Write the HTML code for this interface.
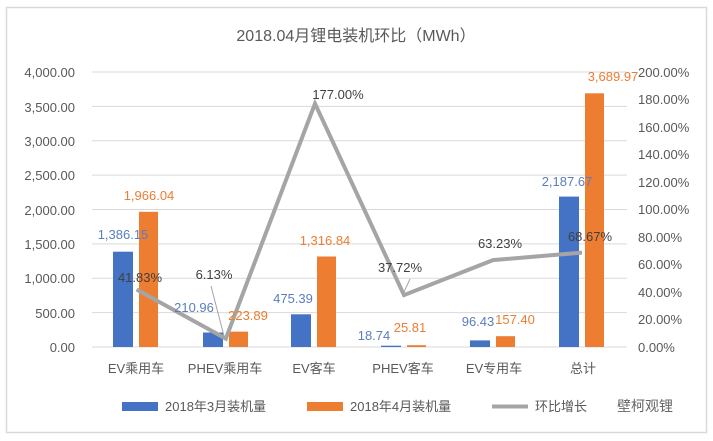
<!DOCTYPE html>
<html><head><meta charset="utf-8"><style>
html,body{margin:0;padding:0;background:#fff}
svg{display:block;font-family:"Liberation Sans","Noto Sans CJK SC",sans-serif}
</style></head><body>
<svg width="713" height="441" viewBox="0 0 713 441" xmlns="http://www.w3.org/2000/svg">
<rect x="0" y="0" width="713" height="441" fill="#fff"/>
<rect x="6.5" y="7.5" width="700" height="425" fill="#fff" stroke="#d9d9d9" stroke-width="1.5"/>
<text x="356" y="41" text-anchor="middle" font-size="16" fill="#595959">2018.04月锂电装机环比（MWh）</text>
<g stroke="#d9d9d9" stroke-width="1">
<line x1="92" x2="627" y1="72" y2="72"/><line x1="92" x2="627" y1="106.4" y2="106.4"/>
<line x1="92" x2="627" y1="140.8" y2="140.8"/><line x1="92" x2="627" y1="175.1" y2="175.1"/>
<line x1="92" x2="627" y1="209.5" y2="209.5"/><line x1="92" x2="627" y1="243.9" y2="243.9"/>
<line x1="92" x2="627" y1="278.3" y2="278.3"/><line x1="92" x2="627" y1="312.6" y2="312.6"/>
<line x1="92" x2="627" y1="347" y2="347"/>
</g>
<g font-size="13" fill="#595959" text-anchor="end">
<text x="75" y="77">4,000.00</text><text x="75" y="112">3,500.00</text><text x="75" y="146">3,000.00</text>
<text x="75" y="180">2,500.00</text><text x="75" y="215">2,000.00</text><text x="75" y="249">1,500.00</text>
<text x="75" y="283">1,000.00</text><text x="75" y="318">500.00</text><text x="75" y="352">0.00</text>
</g>
<g font-size="13" fill="#595959">
<text x="638" y="77">200.00%</text><text x="638" y="104">180.00%</text><text x="638" y="132">160.00%</text>
<text x="638" y="159">140.00%</text><text x="638" y="187">120.00%</text><text x="638" y="214">100.00%</text>
<text x="638" y="242">80.00%</text><text x="638" y="269">60.00%</text><text x="638" y="297">40.00%</text>
<text x="638" y="324">20.00%</text><text x="638" y="352">0.00%</text>
</g>
<g fill="#4472C4">
<rect x="113" y="251.7" width="20" height="95.3"/>
<rect x="203" y="332.5" width="20" height="14.5"/>
<rect x="291" y="314.3" width="20" height="32.7"/>
<rect x="381" y="345.7" width="20" height="1.3"/>
<rect x="470" y="340.4" width="20" height="6.6"/>
<rect x="559" y="196.6" width="20" height="150.4"/>
</g>
<g fill="#ED7D31">
<rect x="139" y="211.8" width="19" height="135.2"/>
<rect x="229" y="331.6" width="19" height="15.4"/>
<rect x="317" y="256.5" width="19" height="90.5"/>
<rect x="407" y="345.2" width="19" height="1.8"/>
<rect x="496" y="336.2" width="19" height="10.8"/>
<rect x="585" y="93.3" width="19" height="253.7"/>
</g>
<line x1="211" y1="286" x2="224" y2="336" stroke="#a5a5a5" stroke-width="1"/>
<line x1="410" y1="279" x2="404" y2="292" stroke="#a5a5a5" stroke-width="1"/>
<polyline points="136.6,289.5 225.8,338.6 315,103.6 404,295.1 493,260.1 582,252.6" fill="none" stroke="#a5a5a5" stroke-width="4" stroke-linejoin="miter"/>
<g font-size="13" fill="#5B7DBF" text-anchor="middle">
<text x="123" y="239">1,386.15</text><text x="194" y="312">210.96</text><text x="293" y="303">475.39</text>
<text x="374" y="340">18.74</text><text x="478" y="326">96.43</text><text x="567" y="186">2,187.67</text>
</g>
<g font-size="13" fill="#ED7D31" text-anchor="middle">
<text x="149" y="200">1,966.04</text><text x="248" y="320">223.89</text><text x="325" y="245">1,316.84</text>
<text x="410" y="332">25.81</text><text x="515" y="324">157.40</text><text x="613" y="81">3,689.97</text>
</g>
<g font-size="13" fill="#404040" text-anchor="middle">
<text x="140" y="282">41.83%</text><text x="214" y="279">6.13%</text><text x="338" y="99">177.00%</text>
<text x="400" y="272">37.72%</text><text x="500" y="248">63.23%</text><text x="590" y="241">68.67%</text>
</g>
<g font-size="13" fill="#595959" text-anchor="middle">
<text x="136" y="373">EV乘用车</text><text x="225" y="373">PHEV乘用车</text><text x="314" y="373">EV客车</text>
<text x="403" y="373">PHEV客车</text><text x="494" y="373">EV专用车</text><text x="583" y="373">总计</text>
</g>
<rect x="122" y="402" width="36" height="9" fill="#4472C4"/>
<text x="165" y="411" font-size="13" fill="#595959">2018年3月装机量</text>
<rect x="307" y="402" width="36" height="9" fill="#ED7D31"/>
<text x="350" y="411" font-size="13" fill="#595959">2018年4月装机量</text>
<line x1="492" y1="406.5" x2="528" y2="406.5" stroke="#a5a5a5" stroke-width="4"/>
<text x="535" y="411" font-size="13" fill="#595959">环比增长</text>
<rect x="588" y="396" width="30" height="20" fill="#fff"/>
<text x="617" y="411" font-size="14" fill="#666">壁柯观锂</text>
</svg>
</body></html>
